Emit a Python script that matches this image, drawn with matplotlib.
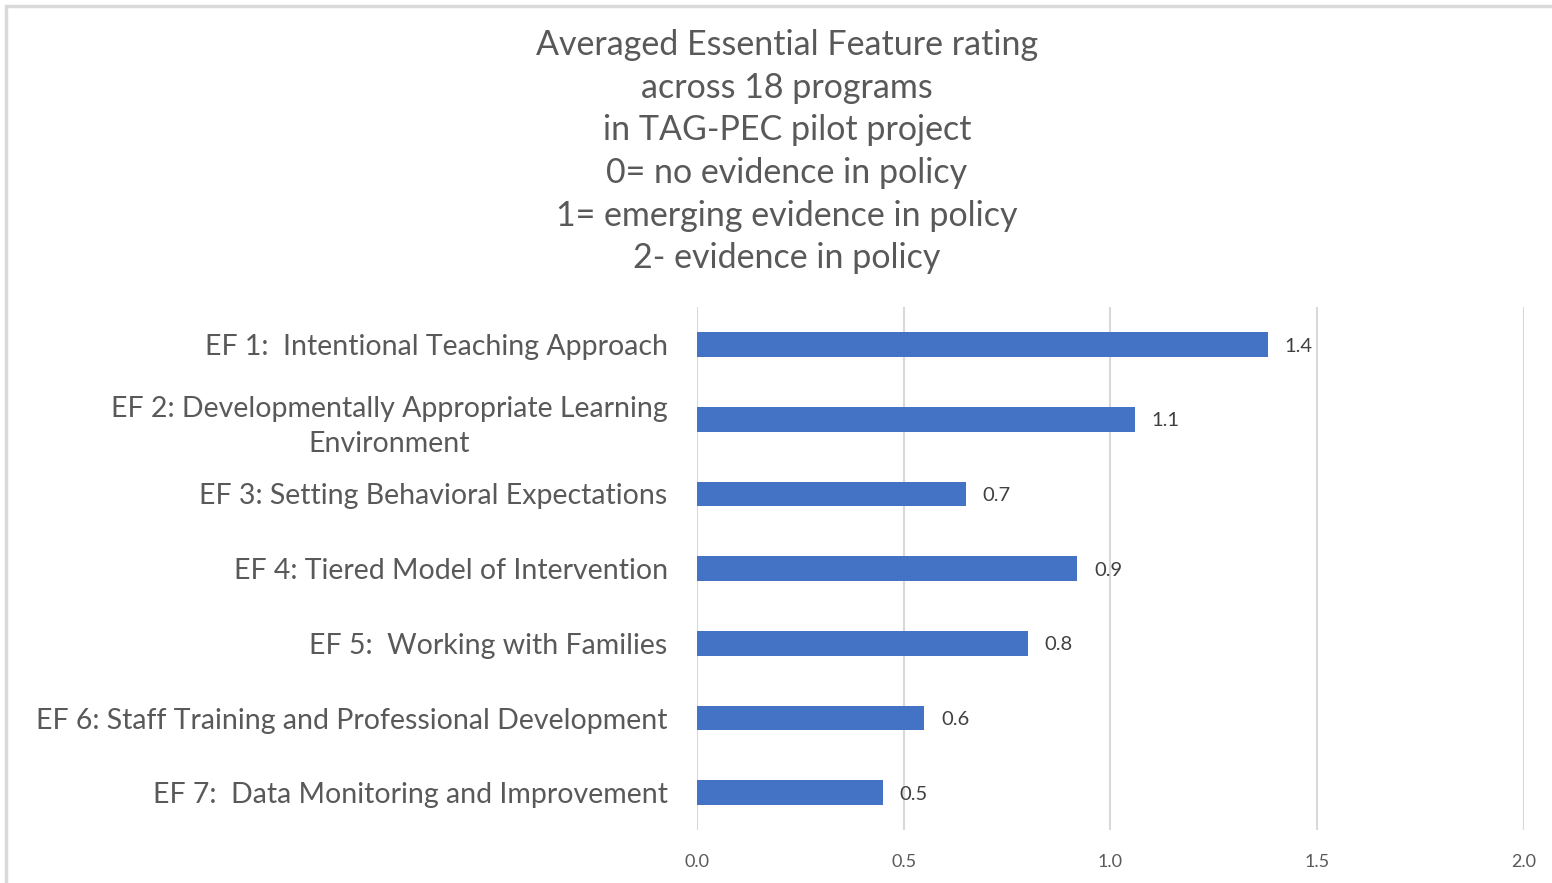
import matplotlib
matplotlib.use("Agg")
import matplotlib.pyplot as plt
from matplotlib.patches import Rectangle

plt.rcParams['font.family'] = ['Lato', 'DejaVu Sans']

# data
features = [
    "EF 1:  Intentional Teaching Approach",
    "EF 2: Developmentally Appropriate Learning\nEnvironment",
    "EF 3: Setting Behavioral Expectations",
    "EF 4: Tiered Model of Intervention",
    "EF 5:  Working with Families",
    "EF 6: Staff Training and Professional Development",
    "EF 7:  Data Monitoring and Improvement",
]
ratings = [1.38, 1.06, 0.65, 0.92, 0.80, 0.55, 0.45]
x_ticks = [0.0, 0.5, 1.0, 1.5, 2.0]

title = ("Averaged Essential Feature rating\n"
         "across 18 programs\n"
         "in TAG-PEC pilot project\n"
         "0= no evidence in policy\n"
         "1= emerging evidence in policy\n"
         "2- evidence in policy")

text_col = "#595959"
bar_col = "#4472C4"
grid_col = "#D9D9D9"

fig = plt.figure(figsize=(15.52, 8.83), dpi=100)
fig.patches.append(Rectangle((0.004, -0.1), 1.2, 1.093, transform=fig.transFigure,
                             fill=False, edgecolor="#D9D9D9", linewidth=2.5))

ax = fig.add_axes([0.449, 0.060, 0.533, 0.592])
pos = list(range(len(features)))
bars = ax.barh(pos, ratings, height=0.33, color=bar_col, zorder=3)
ax.set_ylim(len(features) - 0.5, -0.5)
ax.set_xlim(0, 2.0)
ax.set_xticks(x_ticks)
ax.set_xticklabels([f"{t:.1f}" for t in x_ticks])
ax.set_yticks(pos)
ax.set_yticklabels(features, fontsize=20.5, color=text_col)
for lab in ax.get_yticklabels():
    lab.set_multialignment('center')
    lab.set_linespacing(1.45)
ax.get_yticklabels()[1].set_y(-0.06)
ax.tick_params(axis='y', length=0, pad=21)
ax.tick_params(axis='x', length=0, pad=17, labelsize=13, labelcolor=text_col)
ax.grid(axis='x', color=grid_col, linewidth=1.5, zorder=0)
for s in ax.spines.values():
    s.set_visible(False)

for b, v in zip(bars, ratings):
    ax.text(b.get_width() + 0.04, b.get_y() + b.get_height() / 2 + 0.02, f"{v:.1f}",
            va='center', ha='left', fontsize=14.5, color="#404040")

fig.text(0.507, 0.967, title, ha='center', va='top', fontsize=24.5,
         color=text_col, linespacing=1.41)

fig.savefig("out.png", dpi=100)
